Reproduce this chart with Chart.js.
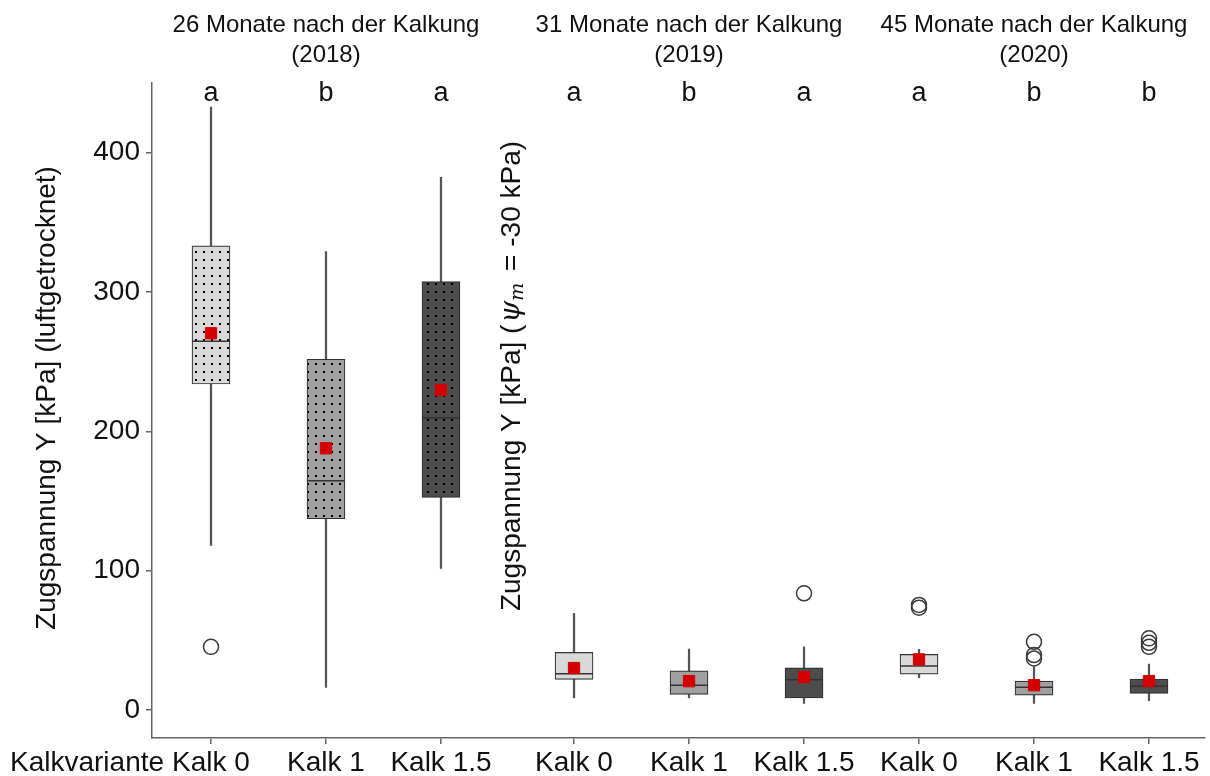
<!DOCTYPE html>
<html>
<head>
<meta charset="utf-8">
<script src="https://cdn.jsdelivr.net/npm/chart.js@4/dist/chart.umd.min.js"></script>
<style>
  html, body { margin: 0; padding: 0; background: #ffffff; }
  #wrap { width: 1210px; height: 776px; position: relative; }
</style>
</head>
<body>
<div id="wrap"><canvas id="c" width="1210" height="776"></canvas></div>
<script>
// Tensile strength Y [kPa] per lime treatment and sampling year
const variants = ['Kalk 0', 'Kalk 1', 'Kalk 1.5'];
const groupTitles = [
  ['26 Monate nach der Kalkung', '(2018)'],
  ['31 Monate nach der Kalkung', '(2019)'],
  ['45 Monate nach der Kalkung', '(2020)']
];
const letters     = ['a', 'b', 'a',   'a', 'b', 'a',   'a', 'b', 'b'];
const whiskerLow  = [118.2, 16.3, 101.7,   8.8,  8.8,  4.8,   23.2,  4.8,  6.7];
const q1          = [234.0, 137.3, 152.7,  22.0, 11.3,  8.8,  25.8, 10.8, 12.0];
const median      = [264.7, 164.6, 209.6,  26.1, 17.9, 21.8,  31.6, 16.5, 17.2];
const q3          = [333.1, 251.8, 307.5,  41.4, 28.2, 30.4,  40.0, 20.8, 22.3];
const whiskerHigh = [432.7, 329.0, 382.4,  69.4, 43.8, 45.4,  43.6, 31.1, 33.0];
const means       = [270.4, 187.9, 229.7,  30.2, 20.8, 23.7,  36.4, 17.9, 20.8];
const outliers    = [[45.4], [], [],   [], [], [83.8],   [75.5, 73.5], [49.0, 39.5, 37.1], [51.5, 48.3, 45.4]];
const yTicks      = [0, 100, 200, 300, 400];

const FONT = '"Liberation Sans", Arial, Helvetica, sans-serif';
const fills = ['#d9d9d9', '#a0a0a0', '#4d4d4d'];

// x positions: one slot per box, with a little extra room after the first year
const pos = q1.map((_, i) => 1 + i + (i >= 3 ? 0.157 : 0));

function dotPattern(color) {
  const c = document.createElement('canvas');
  c.width = 8; c.height = 8;
  const g = c.getContext('2d');
  g.fillStyle = color; g.fillRect(0, 0, 8, 8);
  g.fillStyle = '#000'; g.fillRect(3, 3, 2, 2);
  return g.createPattern(c, 'repeat');
}
// first year drawn with a dotted fill
const boxFills = pos.map((_, i) => i < 3 ? dotPattern(fills[i % 3]) : fills[i % 3]);

const whiskerData = pos.map((x, i) => ({ x, y: [whiskerLow[i], whiskerHigh[i]] }));
const boxData     = pos.map((x, i) => ({ x, y: [q1[i], q3[i]] }));
const medianData  = pos.map((x, i) => ({ x, y: median[i] }));
const meanData    = pos.map((x, i) => ({ x, y: means[i] }));
const outlierData = [];
outliers.forEach((list, i) => list.forEach(v => outlierData.push({ x: pos[i], y: v })));

const annotations = {
  id: 'annotations',
  afterDraw(chart) {
    const ctx = chart.ctx;
    const xs = chart.scales.x;
    ctx.save();
    ctx.fillStyle = '#111';
    ctx.textAlign = 'center';
    ctx.textBaseline = 'alphabetic';

    // year headings
    ctx.font = '24px ' + FONT;
    groupTitles.forEach((t, g) => {
      const cx = xs.getPixelForValue(pos[g * 3 + 1]);
      ctx.fillText(t[0], cx, 32);
      ctx.fillText(t[1], cx, 62);
    });

    // significance letters
    ctx.font = '27px ' + FONT;
    letters.forEach((l, i) => ctx.fillText(l, xs.getPixelForValue(pos[i]), 101));

    // category labels under the x ticks
    ctx.font = '28px ' + FONT;
    xs.ticks.forEach((t, i) => ctx.fillText(variants[i % 3], xs.getPixelForValue(t.value), 771));

    // x axis caption
    ctx.textAlign = 'left';
    ctx.fillText('Kalkvariante', 10, 771);

    // left axis title
    ctx.save();
    ctx.translate(47, 398);
    ctx.rotate(-Math.PI / 2);
    ctx.textAlign = 'center';
    ctx.textBaseline = 'middle';
    ctx.font = '28px ' + FONT;
    ctx.fillText('Zugspannung Y [kPa] (luftgetrocknet)', 0, 0);
    ctx.restore();

    // second axis title with psi_m
    ctx.save();
    ctx.translate(512, 376);
    ctx.rotate(-Math.PI / 2);
    ctx.textBaseline = 'middle';
    ctx.textAlign = 'left';
    const partA = 'Zugspannung Y [kPa] (';
    const partC = ' = -30 kPa)';
    const fN = '28px ' + FONT;
    const fPsi = 'italic 28px "DejaVu Serif", serif';
    const fSub = 'italic 19px "DejaVu Serif", serif';
    ctx.font = fN;  const wA = ctx.measureText(partA).width;
    ctx.font = fPsi; const wP = ctx.measureText('ψ').width;
    ctx.font = fSub; const wS = ctx.measureText('m').width;
    ctx.font = fN;  const wC = ctx.measureText(partC).width;
    let x0 = -(wA + wP + wS + wC + 6) / 2;
    ctx.font = fN;  ctx.fillText(partA, x0, 0); x0 += wA + 2;
    ctx.font = fPsi; ctx.fillText('ψ', x0, 0); x0 += wP;
    ctx.font = fSub; ctx.fillText('m', x0, 6); x0 += wS + 4;
    ctx.font = fN;  ctx.fillText(partC, x0, 0);
    ctx.restore();

    ctx.restore();
  }
};

new Chart(document.getElementById('c'), {
  type: 'bar',
  data: {
    datasets: [
      { type: 'bar', data: whiskerData, backgroundColor: '#555555', barThickness: 1.6, grouped: false, order: 5 },
      { type: 'bar', data: boxData, backgroundColor: boxFills, borderColor: '#333333', borderWidth: 1.2,
        borderSkipped: false, barThickness: 38, grouped: false, order: 4 },
      { type: 'scatter', data: medianData, pointStyle: 'line', radius: 19, borderColor: '#333333', borderWidth: 1.5, order: 3 },
      { type: 'scatter', data: meanData, pointStyle: 'rect', radius: 8, backgroundColor: '#d40000', borderColor: '#d40000', borderWidth: 1, order: 2 },
      { type: 'scatter', data: outlierData, pointStyle: 'circle', radius: 7.5, backgroundColor: 'rgba(0,0,0,0)', borderColor: '#3a3a3a', borderWidth: 1.5, order: 1 }
    ]
  },
  options: {
    responsive: false,
    animation: false,
    devicePixelRatio: 1,
    layout: { autoPadding: false, padding: { top: 83, right: 5, left: 0, bottom: 0 } },
    plugins: { legend: { display: false }, tooltip: { enabled: false } },
    scales: {
      x: {
        type: 'linear', min: 0.487, max: 9.644, offset: false,
        afterBuildTicks: s => { s.ticks = pos.map(v => ({ value: v })); },
        afterFit: s => { s.height = 38; },
        grid: { drawOnChartArea: false, drawTicks: true, tickLength: 6, color: '#666666', lineWidth: 1.5, offset: false },
        border: { display: true, color: '#666666', width: 1.5 },
        ticks: { display: false }
      },
      y: {
        type: 'linear', min: -20, max: 450,
        afterBuildTicks: s => { s.ticks = yTicks.map(v => ({ value: v })); },
        afterFit: s => { s.width = 152; s.paddingTop = 0; s.paddingBottom = 0; },
        grid: { drawOnChartArea: false, drawTicks: true, tickLength: 6, color: '#666666', lineWidth: 1.5 },
        border: { display: true, color: '#666666', width: 1.5 },
        ticks: { font: { size: 28, family: FONT }, color: '#111111', padding: 6 }
      }
    }
  },
  plugins: [annotations]
});
</script>
</body>
</html>
